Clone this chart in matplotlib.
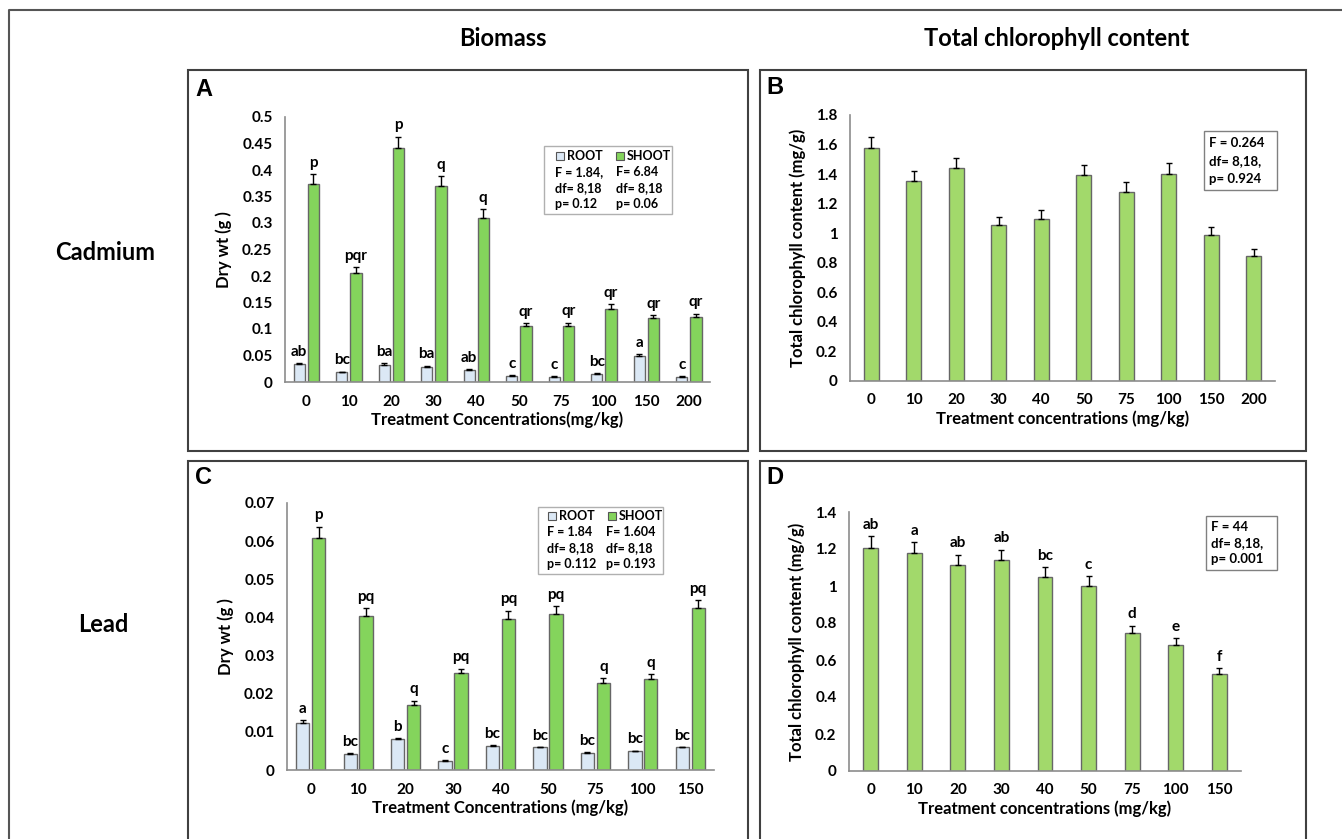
import matplotlib
matplotlib.use('Agg')
import matplotlib.pyplot as plt
from matplotlib.patches import Rectangle
from matplotlib.lines import Line2D
import numpy as np

plt.rcParams['font.family'] = ['Lato', 'DejaVu Sans']
plt.rcParams['font.weight'] = 'bold'

W, H = 1342, 839

# Cadmium: biomass (dry wt, g) and total chlorophyll (mg/g)
cd_conc = ['0', '10', '20', '30', '40', '50', '75', '100', '150', '200']
cd_root = [0.034, 0.018, 0.033, 0.029, 0.023, 0.012, 0.010, 0.016, 0.050, 0.010]
cd_root_err = [0.002, 0.0015, 0.002, 0.002, 0.002, 0.001, 0.001, 0.0015, 0.003, 0.001]
cd_shoot = [0.374, 0.206, 0.442, 0.370, 0.310, 0.105, 0.106, 0.138, 0.120, 0.122]
cd_shoot_err = [0.018, 0.011, 0.021, 0.018, 0.016, 0.006, 0.006, 0.009, 0.006, 0.007]
cd_root_grp = ['ab', 'bc', 'ba', 'ba', 'ab', 'c', 'c', 'bc', 'a', 'c']
cd_shoot_grp = ['p', 'pqr', 'p', 'q', 'q', 'qr', 'qr', 'qr', 'qr', 'qr']
cd_chl = [1.574, 1.353, 1.439, 1.059, 1.095, 1.391, 1.276, 1.400, 0.985, 0.849]
cd_chl_err = [0.080, 0.068, 0.072, 0.052, 0.059, 0.072, 0.068, 0.072, 0.054, 0.047]

# Lead
pb_conc = ['0', '10', '20', '30', '40', '50', '75', '100', '150']
pb_root = [0.0123, 0.0042, 0.0080, 0.0023, 0.0063, 0.0059, 0.0045, 0.0049, 0.0059]
pb_root_err = [0.0007, 0.0002, 0.0003, 0.0002, 0.0003, 0.0002, 0.0002, 0.0002, 0.0002]
pb_shoot = [0.0607, 0.0405, 0.0171, 0.0254, 0.0397, 0.0408, 0.0229, 0.0238, 0.0425]
pb_shoot_err = [0.0031, 0.0020, 0.0011, 0.0012, 0.0021, 0.0022, 0.0011, 0.0013, 0.0021]
pb_root_grp = ['a', 'bc', 'b', 'c', 'bc', 'bc', 'bc', 'bc', 'bc']
pb_shoot_grp = ['p', 'pq', 'q', 'pq', 'pq', 'pq', 'q', 'q', 'pq']
pb_chl = [1.207, 1.178, 1.114, 1.141, 1.047, 1.000, 0.748, 0.683, 0.526]
pb_chl_err = [0.063, 0.060, 0.056, 0.056, 0.054, 0.052, 0.038, 0.036, 0.029]
pb_chl_grp = ['ab', 'a', 'ab', 'ab', 'bc', 'c', 'd', 'e', 'f']

ROOT_C = '#dbe8f5'
SHOOT_C = '#84d45c'
CHL_C = '#a2d96b'
EDGE_C = '#666666'
BOX_C = '#404040'

fig = plt.figure(figsize=(W / 100, H / 100), dpi=100)


def px_axes(x0, y0, x1, y1):
    return fig.add_axes([x0 / W, 1 - y1 / H, (x1 - x0) / W, (y1 - y0) / H])


def ftext(x, y, s, **kw):
    kw.setdefault('fontweight', 'bold')
    fig.text(x / W, 1 - y / H, s, **kw)


def frect(x0, y0, x1, y1, **kw):
    fig.add_artist(Rectangle((x0 / W, 1 - y1 / H), (x1 - x0) / W, (y1 - y0) / H,
                             transform=fig.transFigure, **kw))


def style(ax, labels, yticks, xlabel, ylabel):
    for s in ['top', 'right']:
        ax.spines[s].set_visible(False)
    for s in ['left', 'bottom']:
        ax.spines[s].set_color('#8c8c8c')
        ax.spines[s].set_linewidth(1.2)
    ax.set_xlim(-0.5, len(labels) - 0.5)
    ax.set_ylim(yticks[0], yticks[-1])
    ax.set_xticks(range(len(labels)))
    ax.set_xticklabels(labels)
    ax.set_yticks(yticks)
    ax.set_yticklabels([f'{round(v, 3):g}' for v in yticks])
    ax.tick_params(length=0, labelsize=11, pad=9)
    for t in ax.get_xticklabels() + ax.get_yticklabels():
        t.set_fontweight('bold')
    ax.set_xlabel(xlabel, fontsize=12, fontweight='bold', labelpad=2)
    ax.set_ylabel(ylabel, fontsize=12, fontweight='bold', labelpad=7)
    ax.patch.set_alpha(0)


def label_bars(ax, xs, tops, texts):
    for x, t, s in zip(xs, tops, texts):
        ax.annotate(s, (x, t), xytext=(0, 3), textcoords='offset points',
                    ha='center', va='bottom', fontsize=11, fontweight='bold')


def biomass(ax, conc, root, root_err, shoot, shoot_err, rgrp, sgrp, width, off):
    x = np.arange(len(conc))
    ekw = dict(ecolor='black', elinewidth=1, capsize=2.5, capthick=1)
    ax.bar(x - off, root, width, color=ROOT_C, edgecolor=EDGE_C, linewidth=1,
           yerr=[np.zeros(len(root)), root_err], error_kw=ekw)
    ax.bar(x + off, shoot, width, color=SHOOT_C, edgecolor=EDGE_C, linewidth=1,
           yerr=[np.zeros(len(shoot)), shoot_err], error_kw=ekw)
    label_bars(ax, x - off, np.add(root, root_err), rgrp)
    label_bars(ax, x + off, np.add(shoot, shoot_err), sgrp)


def chlorophyll(ax, conc, vals, err, width):
    x = np.arange(len(conc))
    ekw = dict(ecolor='black', elinewidth=1, capsize=2.5, capthick=1)
    ax.bar(x, vals, width, color=CHL_C, edgecolor=EDGE_C, linewidth=1,
           yerr=[np.zeros(len(vals)), err], error_kw=ekw)
    return x


# outer frame and panel boxes
fig.add_artist(Line2D([9 / W, 9 / W, 1.0], [0.0, 1 - 10 / H, 1 - 10 / H],
                      transform=fig.transFigure, color='#555555', lw=1.5))
for x0, y0, x1, y1 in [(188, 70, 748, 451), (760, 70, 1306, 451),
                       (188, 461, 748, 860), (760, 461, 1306, 860)]:
    frect(x0, y0, x1, y1, facecolor='none', edgecolor=BOX_C, lw=1.5)

ftext(503, 38, 'Biomass', fontsize=17, ha='center', va='center')
ftext(1057, 38, 'Total chlorophyll content', fontsize=17, ha='center', va='center')
ftext(105, 253, 'Cadmium', fontsize=17, ha='center', va='center')
ftext(103, 625, 'Lead', fontsize=17, ha='center', va='center')

for x, y, s in [(204, 89, 'A'), (775, 88, 'B'), (204, 478, 'C'), (775, 478, 'D')]:
    ftext(x, y, s, fontsize=17, ha='center', va='center',
          family=['Liberation Sans', 'DejaVu Sans'])

# A: cadmium biomass
axA = px_axes(285, 117, 710, 382)
biomass(axA, cd_conc, cd_root, cd_root_err, cd_shoot, cd_shoot_err,
        cd_root_grp, cd_shoot_grp, 0.27, 0.165)
style(axA, cd_conc, np.arange(0, 0.5001, 0.05),
      'Treatment Concentrations(mg/kg)', 'Dry wt (g )')

# B: cadmium chlorophyll
axB = px_axes(850, 115, 1275, 381)
chlorophyll(axB, cd_conc, cd_chl, cd_chl_err, 0.35)
style(axB, cd_conc, np.arange(0, 1.8001, 0.2),
      'Treatment concentrations (mg/kg)', 'Total chlorophyll content (mg/g)')

# C: lead biomass
axC = px_axes(287, 503, 714, 770)
biomass(axC, pb_conc, pb_root, pb_root_err, pb_shoot, pb_shoot_err,
        pb_root_grp, pb_shoot_grp, 0.28, 0.168)
style(axC, pb_conc, np.arange(0, 0.07001, 0.01),
      'Treatment Concentrations (mg/kg)', 'Dry wt (g )')

# D: lead chlorophyll
axD = px_axes(849, 512, 1241, 771)
xD = chlorophyll(axD, pb_conc, pb_chl, pb_chl_err, 0.34)
label_bars(axD, xD, np.add(pb_chl, pb_chl_err), pb_chl_grp)
style(axD, pb_conc, np.arange(0, 1.4001, 0.2),
      'Treatment concentrations (mg/kg)', 'Total chlorophyll content (mg/g)')


# ANOVA boxes
def stat_legend(box, rows, c1, c2, sq1, sq2, root_stats, shoot_stats):
    frect(*box, facecolor='white', edgecolor='#b0b0b0', lw=1)
    frect(sq1, rows[0] - 4, sq1 + 8, rows[0] + 4, facecolor=ROOT_C, edgecolor='#555555', lw=0.8)
    frect(sq2, rows[0] - 4, sq2 + 8, rows[0] + 4, facecolor=SHOOT_C, edgecolor='#555555', lw=0.8)
    ftext(sq1 + 11, rows[0], 'ROOT', fontsize=9, va='center')
    ftext(sq2 + 11, rows[0], 'SHOOT', fontsize=9, va='center')
    for y, a, b in zip(rows[1:], root_stats, shoot_stats):
        ftext(c1, y, a, fontsize=9, va='center')
        ftext(c2, y, b, fontsize=9, va='center')


stat_legend((544, 146, 672, 214), [156, 172, 188, 204], 555, 616, 556, 616,
            ['F = 1.84,', 'df= 8,18', 'p= 0.12'], ['F= 6.84', 'df= 8,18', 'p= 0.06'])
stat_legend((538, 507, 663, 574), [516, 532, 548, 564], 547, 606, 548, 608,
            ['F = 1.84', 'df= 8,18', 'p= 0.112'], ['F= 1.604', 'df= 8,18', 'p= 0.193'])

frect(1204, 131, 1277, 190, facecolor='white', edgecolor='#808080', lw=1)
for y, s in zip([143, 161, 179], ['F = 0.264', 'df= 8,18,', 'p= 0.924']):
    ftext(1209, y, s, fontsize=9.5, va='center')
frect(1206, 516, 1277, 570, facecolor='white', edgecolor='#808080', lw=1)
for y, s in zip([527, 543, 559], ['F = 44', 'df= 8,18,', 'p= 0.001']):
    ftext(1211, y, s, fontsize=9.5, va='center')

fig.savefig('out.png', dpi=100)
